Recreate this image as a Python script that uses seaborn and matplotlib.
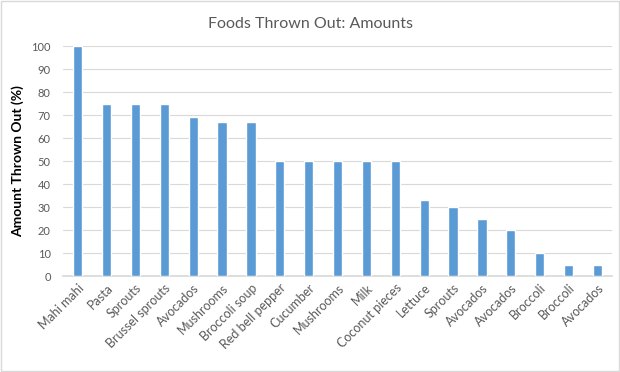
import pandas as pd
import seaborn as sns
import matplotlib.pyplot as plt

# data
foods = ['Mahi mahi', 'Pasta', 'Sprouts', 'Brussel sprouts', 'Avocados', 'Mushrooms',
         'Broccoli soup', 'Red bell pepper', 'Cucumber', 'Mushrooms', 'Milk',
         'Coconut pieces', 'Lettuce', 'Sprouts', 'Avocados', 'Avocados',
         'Broccoli', 'Broccoli', 'Avocados']
amounts = [100, 75, 75, 75, 69, 67, 67, 50, 50, 50, 50, 50, 33, 30, 25, 20, 10, 5, 5]

# foods repeat, so plot against position and set labels afterwards
df = pd.DataFrame({'pos': range(len(foods)), 'amount': amounts})

sns.set_theme(style="white")
plt.rcParams['font.family'] = ['Lato', 'DejaVu Sans']

fig = plt.figure(figsize=(6.2, 3.72), dpi=100)
ax = fig.add_axes([0.102, 0.258, 0.885, 0.618])

sns.barplot(data=df, x='pos', y='amount', color='#5B9BD5', saturation=1,
            width=0.32, ax=ax, zorder=3)

ax.set_ylim(0, 100)
ax.set_yticks(range(0, 101, 10))
ax.set_xlim(-0.5, len(foods) - 0.5)
ax.yaxis.grid(True, color='#D9D9D9', linewidth=0.8, zorder=0)
ax.set_axisbelow(True)
for side in ['top', 'right', 'left']:
    ax.spines[side].set_visible(False)
ax.spines['bottom'].set_color('#D9D9D9')

ax.set_xticks(range(len(foods)))
ax.set_xticklabels(foods, rotation=45, ha='right', rotation_mode='anchor',
                   fontsize=9, color='#595959')
ax.tick_params(axis='y', labelsize=8, labelcolor='#595959', length=0, pad=9)
ax.tick_params(axis='x', length=0, pad=4)

ax.set_xlabel('')
ax.set_ylabel('Amount Thrown Out (%)', fontsize=10, fontweight='bold', color='black',
              labelpad=5)
fig.suptitle('Foods Thrown Out: Amounts', y=0.955, fontsize=11.5, color='#595959')

# thin gray frame round the figure like the reference
fig.patches.append(plt.Rectangle((0.002, 0.003), 0.996, 0.994, transform=fig.transFigure,
                                 fill=False, edgecolor='#D9D9D9', linewidth=1))

plt.savefig('out.png', dpi=100)
plt.close()
